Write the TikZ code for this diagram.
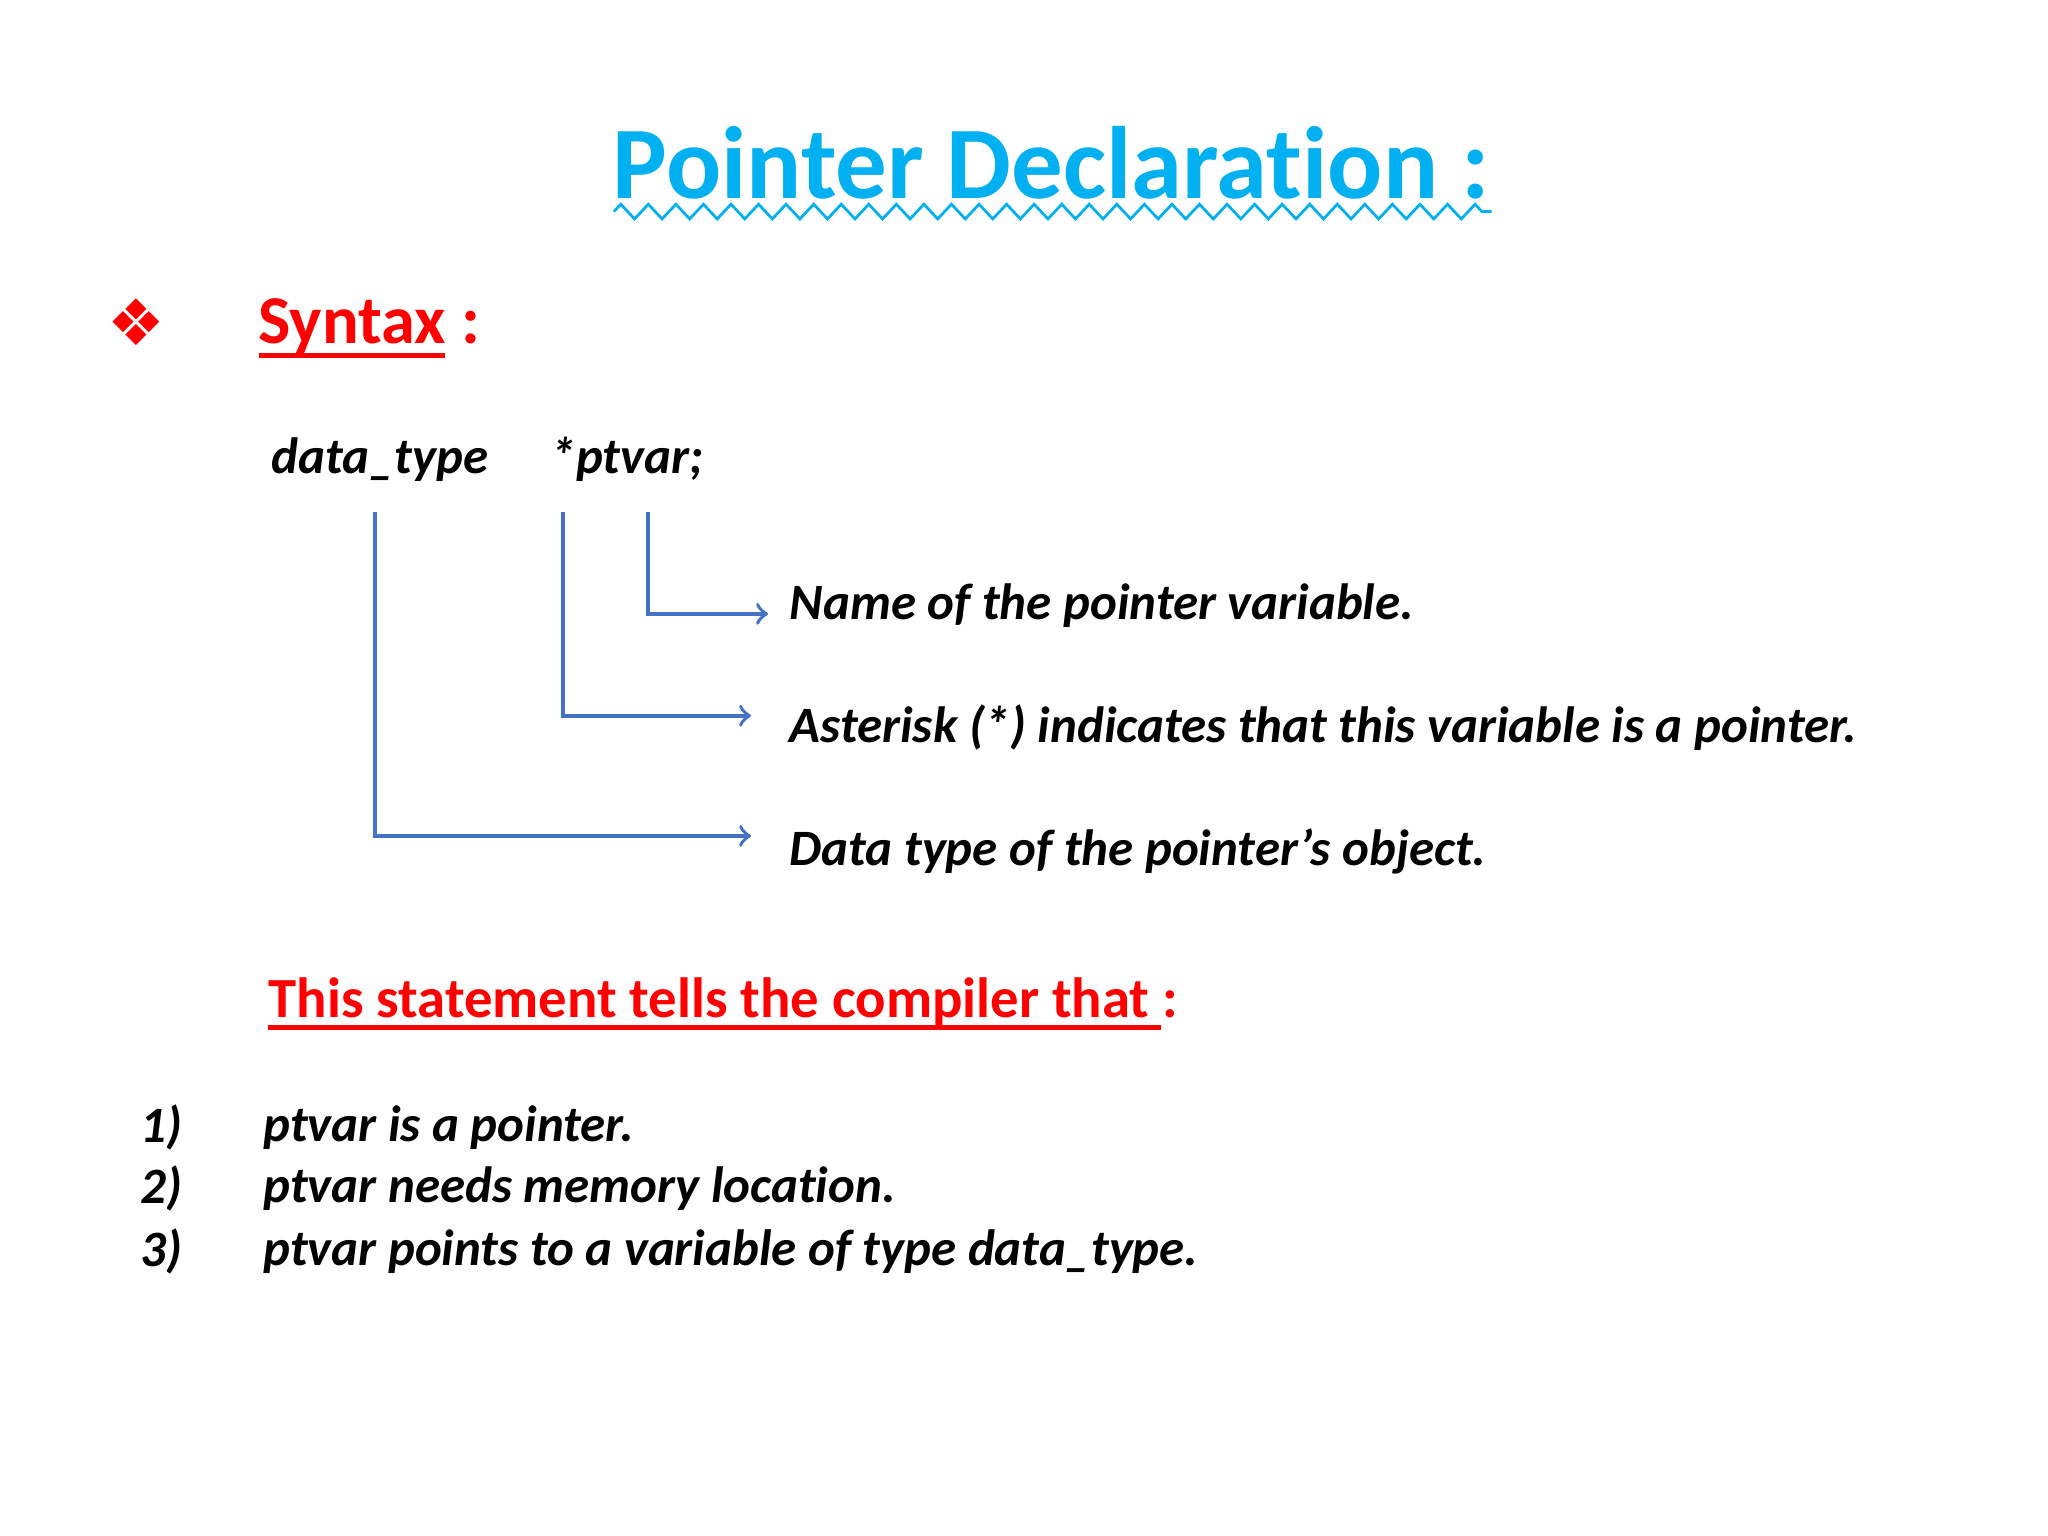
\documentclass[tikz,border=0pt]{standalone}
\usepackage{fontspec}
\setmainfont[Ligatures=NoCommon]{Carlito}
\newfontfamily\symf{DejaVu Sans}
\usetikzlibrary{decorations.pathmorphing}
\definecolor{ttl}{RGB}{0,176,240}
\definecolor{arr}{RGB}{68,114,196}
\definecolor{rd}{RGB}{255,0,0}
\begin{document}
\begin{tikzpicture}[x=0.01cm,y=-0.01cm,
  lbl/.style={anchor=west,inner sep=0,font=\fontsize{11.1}{13}\selectfont\bfseries\itshape},
  conn/.style={draw=arr,line width=0.8pt,-to}]
\useasboundingbox (0,0) rectangle (1568,1176);
\fill[white] (0,0) rectangle (1568,1176);
\node[inner sep=0,text=ttl,font=\fontsize{22.4}{26}\selectfont\bfseries] (title) at (805,125) {Pointer Declaration :};
\draw[ttl,line width=0.6pt,decoration={zigzag,segment length=6,amplitude=1.6},decorate] (470,162) -- (1142,162);
\node[inner sep=0,text=rd,font=\fontsize{14}{18}\selectfont\symf] (bul) at (104,247) {❖};
\node[anchor=west,inner sep=0,text=rd,font=\fontsize{14.9}{18}\selectfont\bfseries] (syn) at (197,250) {Syntax :};
\draw[rd,line width=1.1pt] (198,272) -- (341,272);
\node[lbl] (dt) at (207,352) {data\_type};
\node[lbl] (pv) at (421,352) {*ptvar;};
\node[lbl] (l1) at (604,464) {Name of the pointer variable.};
\node[lbl] (l2) at (604,557) {Asterisk (*) indicates that this variable is a pointer.};
\node[lbl] (l3) at (604,652) {Data type of the pointer’s object.};
\coordinate (a1) at (496,392); \coordinate (e1) at (588,470);
\coordinate (a2) at (431,392); \coordinate (e2) at (575,548);
\coordinate (a3) at (287,392); \coordinate (e3) at (575,640);
\draw[conn] (a1) |- (e1);
\draw[conn] (a2) |- (e2);
\draw[conn] (a3) |- (e3);
\node[anchor=west,inner sep=0,text=rd,font=\fontsize{12.35}{15}\selectfont\bfseries] (st) at (205,767) {This statement tells the compiler that :};
\draw[rd,line width=1.1pt] (205,787) -- (889,787);
\node[lbl] (n1) at (107,863) {1)};
\node[lbl] (n2) at (107,910) {2)};
\node[lbl] (n3) at (107,958) {3)};
\node[lbl] (t1) at (201,863) {ptvar is a pointer.};
\node[lbl] (t2) at (201,910) {ptvar needs memory location.};
\node[lbl] (t3) at (201,958) {ptvar points to a variable of type data\_type.};
\end{tikzpicture}
\end{document}
